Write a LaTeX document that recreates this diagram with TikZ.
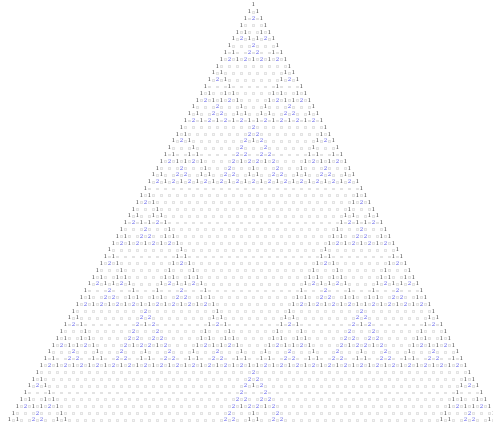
\documentclass[tikz,border=0pt]{standalone}
\definecolor{twoc}{RGB}{95,95,235}
\definecolor{onec}{RGB}{60,60,60}
\begin{document}
\begin{tikzpicture}[x=1pt,y=1pt,
  cell/.style={inner sep=0pt, font=\fontsize{6}{6}\selectfont},
  onev/.style={cell,text=onec},
  twov/.style={cell,text=twoc},
  zmark/.style={draw=black!11, fill=black!3, line width=0.25pt, minimum size=1.9pt, inner sep=0pt}]
\fill[white] (0,0) rectangle (493,-429);
\useasboundingbox (0,0) rectangle (493,-429);
\clip (0,0) rectangle (493,-429);
\foreach \n in {0,...,61}{
  \foreach \k in {0,...,\n}{
    \ifnum\k=0 \gdef\v{1}\else\ifnum\k=\n\relax \gdef\v{1}\else
      \xdef\v{\the\numexpr\csname pc-\the\numexpr\n-1\relax-\the\numexpr\k-1\relax\endcsname+\csname pc-\the\numexpr\n-1\relax-\k\endcsname\relax}%
      \ifnum\v>2 \xdef\v{\the\numexpr\v-3\relax}\fi
    \fi\fi
    \expandafter\xdef\csname pc-\n-\k\endcsname{\v}%
    \ifnum\v=1 \node[onev] (e-\n-\k) at ({253.5+(\k-\n/2)*8},{-5-\n*6.8}) {1};\fi
    \ifnum\v=2 \node[twov] (e-\n-\k) at ({253.5+(\k-\n/2)*8},{-5-\n*6.8}) {2};\fi
    \ifnum\k<\n \node[zmark] (m-\n-\k) at ({253.5+(\k+0.5-\n/2)*8},{-5-\n*6.8}) {};\fi
  }
}
\end{tikzpicture}
\end{document}
